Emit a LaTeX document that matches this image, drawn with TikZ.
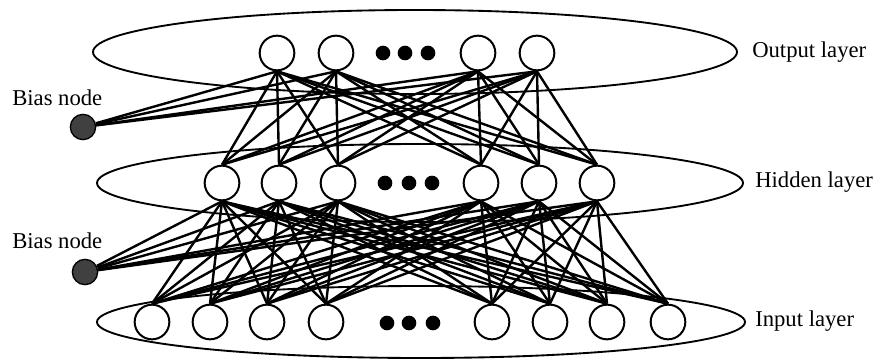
\documentclass[tikz,border=0pt]{standalone}
\usepackage{fontspec}
\setmainfont{Liberation Serif}
\usetikzlibrary{positioning}

\begin{document}
\begin{tikzpicture}[
  x=0.75pt, y=-0.75pt,
  layer/.style={draw, line width=1.4pt},
  neuron/.style={circle, draw, fill=white, line width=1.5pt, minimum size=26pt, inner sep=0pt},
  bias/.style={circle, draw, fill=black!75, line width=1pt, minimum size=19pt, inner sep=0pt},
  etc/.style={circle, fill=black, minimum size=11pt, inner sep=0pt},
  conn/.style={line width=1.8pt},
  lbl/.style={font=\fontsize{17}{20}\selectfont, anchor=west, inner sep=0pt},
]
\useasboundingbox (0,0) rectangle (878,360);

% Layers
\draw[layer] (415,52) ellipse [x radius=322, y radius=42];
\draw[layer] (420,183) ellipse [x radius=323, y radius=39];
\draw[layer] (421,322) ellipse [x radius=324, y radius=36];

% Neurons
\foreach \x [count=\i] in {277,336,478,537}
  \node[neuron] (o\i) at (\x,53) {};
\foreach \x [count=\i] in {222,279,338,481,539,597}
  \node[neuron] (h\i) at (\x,183) {};
\foreach \x [count=\i] in {152,210,267,326,492,550,607,668}
  \node[neuron] (i\i) at (\x,322) {};

% Dots
\foreach \x [count=\i] in {383,405,428}
  \node[etc] (od\i) at (\x,53) {};
\foreach \x [count=\i] in {385,409,432}
  \node[etc] (hd\i) at (\x,183) {};
\foreach \x [count=\i] in {387,409,433}
  \node[etc] (id\i) at (\x,323) {};

% Bias nodes
\node[bias] (b1) at (83,127) {};
\node[bias] (b2) at (85,272) {};

% Connections
\foreach \j in {1,...,6} {
  \foreach \k in {1,...,4}
    \draw[conn] (h\j.north) -- (o\k.south);
  \foreach \k in {1,...,8}
    \draw[conn] (i\k.north) -- (h\j.south);
}
\foreach \k in {1,...,4}
  \draw[conn] (b1) -- (o\k.south);
\foreach \j in {1,...,6}
  \draw[conn] (b2) -- (h\j.south);

% Labels
\node[lbl] (lo) at (752,52) {Output layer};
\node[lbl] (lh) at (755,182) {Hidden layer};
\node[lbl] (li) at (755,321) {Input layer};
\node[lbl] (lb1) at (12,98) {Bias node};
\node[lbl] (lb2) at (12,241) {Bias node};

\end{tikzpicture}
\end{document}
